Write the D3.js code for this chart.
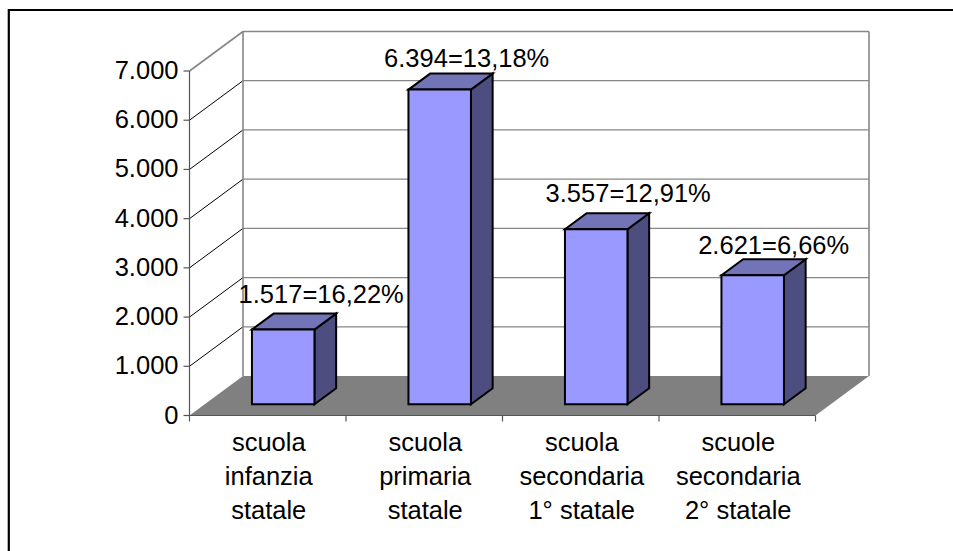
<!DOCTYPE html>
<html>
<head>
<meta charset="utf-8">
<script src="https://cdn.jsdelivr.net/npm/d3@7"></script>
<style>
html, body { margin: 0; padding: 0; background: #fff; }
svg { display: block; }
text { font-family: "Liberation Sans", Arial, sans-serif; fill: #000; }
</style>
</head>
<body>
<script>
// Teachers per school level, with the share quoted in each label
const categories = [
  ["scuola", "infanzia", "statale"],
  ["scuola", "primaria", "statale"],
  ["scuola", "secondaria", "1° statale"],
  ["scuole", "secondaria", "2° statale"]
];
const values = [1517, 6394, 3557, 2621];
const valueLabels = ["1.517=16,22%", "6.394=13,18%", "3.557=12,91%", "2.621=6,66%"];
const yTicks = [0, 1000, 2000, 3000, 4000, 5000, 6000, 7000];
const yTickLabels = ["0", "1.000", "2.000", "3.000", "4.000", "5.000", "6.000", "7.000"];

const width = 953, height = 551;
const svg = d3.select("body").append("svg").attr("width", width).attr("height", height);

// Front plane of the 3D box and the depth offset to the back wall
const plot = { left: 189.5, right: 815.5, top: 71, bottom: 415.5 };
const depth = { x: 53.5, y: -39.5 };
const barDepth = { x: 21.7, y: -16 };

const y = d3.scaleLinear().domain([0, 7000]).range([plot.bottom, plot.top]);
const x = d3.scaleBand().domain(d3.range(categories.length))
  .range([plot.left, plot.right]).paddingInner(0).paddingOuter(0);
const barW = 62.5;
const fontSize = 25.5;

// Hand-placed data labels: shift from the bar centre and gap above the bar
const labelShift = [38, 27, 32, 21];
const labelGap = [11, 7, 11, 5];

const poly = pts => "M" + pts.map(p => p.join(",")).join("L") + "Z";
const grey = "#868686";

// Outer frame: open on the right side
svg.append("path")
  .attr("d", `M8.8,${height}V10H${width}`)
  .attr("fill", "none").attr("stroke", "#000").attr("stroke-width", 2.2);

// Floor
svg.append("path")
  .attr("d", poly([
    [plot.left, plot.bottom],
    [plot.left + depth.x, plot.bottom + depth.y],
    [plot.right + depth.x, plot.bottom + depth.y],
    [plot.right, plot.bottom]
  ]))
  .attr("fill", "#808080");

// Gridlines: back wall and side wall
const grid = svg.append("g").attr("fill", "none");
yTicks.slice(1).forEach(t => {
  const yy = y(t);
  const isTop = t === 7000;
  grid.append("path")
    .attr("d", `M${plot.left},${yy}L${plot.left + depth.x},${yy + depth.y}`)
    .attr("stroke", isTop ? grey : "#000").attr("stroke-width", isTop ? 1.6 : 1);
  grid.append("path")
    .attr("d", `M${plot.left + depth.x},${yy + depth.y}H${plot.right + depth.x}`)
    .attr("stroke", grey).attr("stroke-width", isTop ? 1.6 : 1.2);
});
[plot.left, plot.right].forEach(edge => {
  grid.append("path")
    .attr("d", `M${edge + depth.x},${plot.bottom + depth.y}V${y(7000) + depth.y}`)
    .attr("stroke", grey).attr("stroke-width", 1.6);
});

// Front axes with tick marks
const axes = svg.append("g").attr("fill", "none").attr("stroke", "#555").attr("stroke-width", 1.2);
axes.append("path").attr("d", `M${plot.left},${plot.top}V${plot.bottom}H${plot.right}`);
yTicks.forEach(t => axes.append("path").attr("d", `M${plot.left - 6},${y(t)}H${plot.left}`));
d3.range(categories.length + 1).forEach(i => {
  const xx = plot.left + i * x.step();
  axes.append("path").attr("d", `M${xx},${plot.bottom}V${plot.bottom + 6}`);
});

// Value axis labels
svg.append("g").selectAll("text").data(yTicks).join("text")
  .attr("x", plot.left - 11)
  .attr("y", d => y(d) + 8)
  .attr("text-anchor", "end")
  .attr("font-size", fontSize)
  .text((d, i) => yTickLabels[i]);

// Bars: side, top and front faces, then the data label
const bars = svg.append("g").selectAll("g").data(values).join("g");
const baseY = plot.bottom + (depth.y - barDepth.y) / 2 + 0.5;
const zeroY = y(0);
const barX = i => x(i) + x.bandwidth() / 2 + depth.x / 2 - barW / 2 - 11.3;
const face = { stroke: "#000", "stroke-width": 2, "stroke-linejoin": "miter" };
function styled(sel, fill) {
  sel.attr("fill", fill);
  Object.entries(face).forEach(([k, v]) => sel.attr(k, v));
}
bars.each(function (d, i) {
  const g = d3.select(this);
  const x0 = barX(i), x1 = x0 + barW;
  const top = baseY - (zeroY - y(d));
  styled(g.append("path").attr("d", poly([
    [x1, baseY], [x1 + barDepth.x, baseY + barDepth.y],
    [x1 + barDepth.x, top + barDepth.y], [x1, top]
  ])), "#4d4d80");
  styled(g.append("path").attr("d", poly([
    [x0, top], [x0 + barDepth.x, top + barDepth.y],
    [x1 + barDepth.x, top + barDepth.y], [x1, top]
  ])), "#7373b8");
  styled(g.append("path").attr("d", poly([
    [x0, top], [x1, top], [x1, baseY], [x0, baseY]
  ])), "#9999ff");
  g.append("text")
    .attr("x", x0 + barW / 2 + labelShift[i])
    .attr("y", top + barDepth.y - labelGap[i])
    .attr("text-anchor", "middle")
    .attr("font-size", fontSize)
    .text(valueLabels[i]);
});

// Category labels, one line per array entry
svg.append("g").selectAll("g").data(categories).join("g")
  .each(function (lines, i) {
    d3.select(this).selectAll("text").data(lines).join("text")
      .attr("x", x(i) + x.bandwidth() / 2 + 1)
      .attr("y", (d, j) => 451 + j * 34)
      .attr("text-anchor", "middle")
      .attr("font-size", fontSize)
      .text(d => d);
  });
</script>
</body>
</html>
